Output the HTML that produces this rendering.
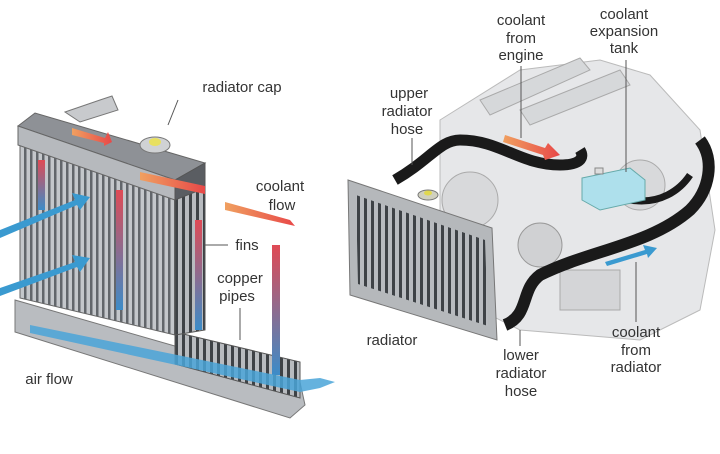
<!DOCTYPE html>
<html><head><meta charset="utf-8"><style>
html,body{margin:0;padding:0;background:#fff;}
svg{display:block}
text{font-family:"Liberation Sans",sans-serif;fill:#333;font-size:15px;text-anchor:middle}
</style></head><body>
<svg width="720" height="454" viewBox="0 0 720 454" xmlns="http://www.w3.org/2000/svg">
<defs>
<pattern id="fins" width="6" height="6" patternUnits="userSpaceOnUse">
<rect width="6" height="6" fill="#c4c7cb"/><rect width="2.5" height="6" fill="#62666b"/></pattern>
<pattern id="fins2" width="7" height="7" patternUnits="userSpaceOnUse">
<rect width="7" height="7" fill="#b8bbbf"/><rect width="3" height="7" fill="#3e4246"/></pattern>
<linearGradient id="red" x1="0" y1="0" x2="0" y2="1"><stop offset="0" stop-color="#e04a55"/><stop offset="1" stop-color="#3c8cc8"/></linearGradient>
<linearGradient id="org" x1="0" y1="0" x2="1" y2="0"><stop offset="0" stop-color="#f0a060"/><stop offset="1" stop-color="#e84848"/></linearGradient>
</defs>

<!-- LEFT RADIATOR -->
<polygon points="15,300 300,382 305,405 290,418 15,332" fill="#b9bcc0" stroke="#777" />
<polygon points="175,332 300,362 300,398 175,364" fill="url(#fins2)" stroke="#555"/>
<polygon points="20,142 175,198 175,335 20,298" fill="url(#fins)" stroke="#666"/>
<polygon points="175,198 205,186 205,330 175,335" fill="url(#fins2)" stroke="#555"/>
<!-- top tank -->
<polygon points="18,126 35,113 205,163 175,180" fill="#8e9196" stroke="#666"/>
<polygon points="18,126 175,180 175,200 18,145" fill="#b6b9bd" stroke="#666"/>
<polygon points="175,180 205,163 205,188 175,200" fill="#5a5d62" stroke="#555"/>
<polygon points="65,112 100,100 112,96 118,110 80,122" fill="#c8cacd" stroke="#777"/>
<ellipse cx="155" cy="145" rx="15" ry="8" fill="#d0d2d4" stroke="#777"/>
<ellipse cx="155" cy="142" rx="6" ry="4" fill="#e8e060"/>
<line x1="178" y1="100" x2="168" y2="125" stroke="#555"/>
<!-- red vertical arrows -->
<rect x="38" y="160" width="7" height="50" fill="url(#red)"/>
<rect x="116" y="190" width="7" height="120" fill="url(#red)"/>
<rect x="195" y="220" width="7" height="110" fill="url(#red)"/>
<rect x="272" y="245" width="8" height="130" fill="url(#red)"/>
<polygon points="72,128 105,138 108,132 112,142 104,146 104,143 72,135" fill="url(#org)"/>
<polygon points="140,172 205,186 205,194 140,180" fill="url(#org)"/>
<polygon points="225,202 290,220 295,226 225,210" fill="url(#org)"/>
<!-- blue arrows -->
<polygon points="0,230 75,200 72,193 90,197 80,210 77,205 0,238" fill="#3a9ad0"/>
<polygon points="0,288 75,262 72,255 90,258 80,272 77,267 0,296" fill="#3a9ad0"/>
<polygon points="30,325 300,380 320,378 335,382 320,388 300,392 30,333" fill="#4aa4d8" opacity=".85"/>
<text x="242" y="92">radiator cap</text>
<text x="280" y="191">coolant</text>
<text x="282" y="210">flow</text>
<line x1="205" y1="245" x2="228" y2="245" stroke="#555"/>
<text x="247" y="250">fins</text>
<text x="240" y="283">copper</text>
<text x="237" y="301">pipes</text>
<line x1="240" y1="308" x2="240" y2="340" stroke="#555"/>
<text x="49" y="384">air flow</text>

<!-- ENGINE -->
<path d="M440,120 L520,70 L600,60 L650,75 L700,130 L715,230 L700,310 L640,340 L520,330 L460,300 L440,230 Z" fill="#e6e7e9" stroke="#bbb"/>
<path d="M480,100 L580,58 L590,70 L490,115 Z M520,110 L620,70 L630,85 L530,125 Z" fill="#d6d8da" stroke="#aaa"/>
<circle cx="470" cy="200" r="28" fill="#d8d9db" stroke="#aaa"/>
<circle cx="540" cy="245" r="22" fill="#d0d1d3" stroke="#999"/>
<circle cx="640" cy="185" r="25" fill="#d8d9db" stroke="#aaa"/>
<rect x="560" y="270" width="60" height="40" fill="#d4d5d7" stroke="#aaa"/>
<!-- hoses -->
<path d="M395,180 C430,160 440,140 460,140 C500,140 520,165 560,165 C580,165 585,158 580,150" fill="none" stroke="#1a1a1a" stroke-width="11"/>
<path d="M505,325 C530,315 520,290 540,275 C590,250 650,245 690,210 C710,190 715,160 700,140" fill="none" stroke="#1a1a1a" stroke-width="12"/>
<path d="M630,200 C660,205 680,190 690,175" fill="none" stroke="#1a1a1a" stroke-width="7"/>
<path d="M582,178 L630,168 L645,180 L645,200 L600,210 L582,200 Z" fill="#aee0ec" stroke="#6aa"/>
<rect x="595" y="168" width="8" height="6" fill="#ddd" stroke="#888"/>
<polygon points="505,135 545,148 548,143 560,155 545,160 543,155 503,142" fill="url(#org)"/>
<polygon points="605,262 645,250 643,245 657,248 648,258 647,254 607,266" fill="#3a9ad0"/>
<!-- RIGHT RADIATOR -->
<polygon points="348,180 492,228 497,340 350,295" fill="#b5b8bb" stroke="#777"/>
<polygon points="356,195 485,240 488,326 358,284" fill="url(#fins2)"/>
<ellipse cx="428" cy="195" rx="10" ry="5" fill="#d0d0c0" stroke="#777"/>
<ellipse cx="428" cy="193" rx="4" ry="2.5" fill="#e0d850"/>
<!-- labels -->
<text x="409" y="98">upper</text><text x="407" y="116">radiator</text><text x="407" y="134">hose</text>
<line x1="412" y1="138" x2="412" y2="165" stroke="#555"/>
<text x="521" y="25">coolant</text><text x="521" y="43">from</text><text x="521" y="60">engine</text>
<line x1="521" y1="66" x2="521" y2="138" stroke="#555"/>
<text x="624" y="19">coolant</text><text x="624" y="36">expansion</text><text x="624" y="53">tank</text>
<line x1="626" y1="60" x2="626" y2="172" stroke="#555"/>
<text x="392" y="345">radiator</text>
<text x="521" y="360">lower</text><text x="521" y="378">radiator</text><text x="521" y="396">hose</text>
<line x1="520" y1="330" x2="520" y2="346" stroke="#555"/>
<text x="636" y="337">coolant</text><text x="636" y="355">from</text><text x="636" y="372">radiator</text>
<line x1="636" y1="262" x2="636" y2="322" stroke="#555"/>
</svg>
</body></html>
